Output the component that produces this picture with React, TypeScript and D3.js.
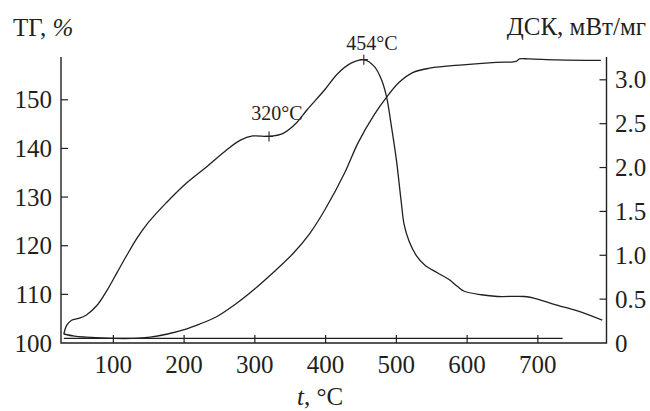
import React, { useEffect, useRef } from 'react';
import * as d3 from 'd3';

// TG curve, [t °C, %]
const tgPoints: [number, number][] = [
    [30, 101.85], [45, 101.4], [62, 101.2], [100, 100.95], [128, 100.95], [152, 101.2],
    [175, 101.8], [199, 102.7], [222, 103.9], [246, 105.4], [269, 107.6], [298, 110.9],
    [326, 114.5], [354, 118.4], [377, 122.4], [399, 127.4], [427, 135.0], [446, 141.2],
    [469, 147.0], [486, 150.5], [504, 153.6], [523, 155.6], [547, 156.5], [594, 157.2],
    [641, 157.7], [669, 157.9], [674, 158.4], [688, 158.4], [728, 158.2], [789, 158.1]
];

// DSC curve, [t °C, mW/mg]
const dscPoints: [number, number][] = [
    [30, 0.1], [34, 0.2], [41, 0.26], [51, 0.28], [62, 0.32], [77, 0.43], [91, 0.6],
    [105, 0.8], [119, 1.0], [133, 1.19], [147, 1.35], [161, 1.48], [175, 1.6], [203, 1.82],
    [232, 2.01], [260, 2.2], [279, 2.31], [297, 2.36], [320, 2.355], [340, 2.39], [359, 2.51],
    [373, 2.65], [399, 2.89], [417, 3.07], [436, 3.19], [454, 3.23], [469, 3.15], [479, 3.0],
    [486, 2.81], [493, 2.47], [500, 2.09], [507, 1.6], [511, 1.35], [518, 1.16], [528, 1.0],
    [540, 0.89], [558, 0.8], [575, 0.72], [587, 0.64], [596, 0.59], [620, 0.55], [643, 0.53],
    [681, 0.53], [695, 0.51], [728, 0.43], [756, 0.365], [791, 0.26]
];

// flat line just above the bottom axis
const baselinePoints: [number, number][] = [[30, 100.95], [735, 100.95]];

const xTicks = [100, 200, 300, 400, 500, 600, 700];
const tgTicks = [100, 110, 120, 130, 140, 150];
const dscTicks = [0, 0.5, 1, 1.5, 2, 2.5, 3];
const dscTickLabels = ['0', '0.5', '1.0', '1.5', '2.0', '2.5', '3.0'];
const peakTemps = [320, 454];
const peakLabels = ['320°C', '454°C'];

const ink = '#231f20';
const font = '"Liberation Serif", "Times New Roman", serif';

const App = () => {
    const ref = useRef<SVGSVGElement | null>(null);

    useEffect(() => {
        if (!ref.current) return;
        const svg = d3.select(ref.current);
        svg.selectAll('*').remove();

        const left = 61, right = 606.5, top = 57, bottom = 343;

        const x = d3.scaleLinear().domain([26, 797]).range([left, right]);
        const yTg = d3.scaleLinear().domain([100, 158.8]).range([bottom, top]);
        const yDsc = d3.scaleLinear().domain([0, 3.26]).range([bottom, top]);

        // frame: left axis, bottom, right axis
        svg.append('path')
            .attr('d', `M${left},${top}V${bottom}H${right}V${top}`)
            .attr('fill', 'none')
            .attr('stroke', ink)
            .attr('stroke-width', 1.4);

        // x ticks
        svg.selectAll('.xt')
            .data(xTicks)
            .enter()
            .append('line')
            .attr('x1', d => x(d)).attr('x2', d => x(d))
            .attr('y1', bottom).attr('y2', bottom - 8)
            .attr('stroke', ink).attr('stroke-width', 1.2);

        svg.selectAll('.xl')
            .data(xTicks)
            .enter()
            .append('text')
            .attr('x', d => x(d))
            .attr('y', bottom + 30)
            .attr('text-anchor', 'middle')
            .text(d => d);

        // left ticks
        svg.selectAll('.lt')
            .data(tgTicks.filter(d => d > 100))
            .enter()
            .append('line')
            .attr('x1', left).attr('x2', left + 7)
            .attr('y1', d => yTg(d)).attr('y2', d => yTg(d))
            .attr('stroke', ink).attr('stroke-width', 1.2);

        svg.selectAll('.ll')
            .data(tgTicks)
            .enter()
            .append('text')
            .attr('x', left - 9)
            .attr('y', d => yTg(d) + 8.5)
            .attr('text-anchor', 'end')
            .text(d => d);

        // right ticks
        svg.selectAll('.rt')
            .data(dscTicks.filter(d => d > 0))
            .enter()
            .append('line')
            .attr('x1', right).attr('x2', right - 7)
            .attr('y1', d => yDsc(d)).attr('y2', d => yDsc(d))
            .attr('stroke', ink).attr('stroke-width', 1.2);

        svg.selectAll('.rl')
            .data(dscTicks)
            .enter()
            .append('text')
            .attr('x', right + 8.5)
            .attr('y', d => yDsc(d) + 8.5)
            .text((d, i) => dscTickLabels[i]);

        const tgLine = d3.line<[number, number]>()
            .x(d => x(d[0]))
            .y(d => yTg(d[1]))
            .curve(d3.curveCatmullRom.alpha(0.5));

        const dscLine = d3.line<[number, number]>()
            .x(d => x(d[0]))
            .y(d => yDsc(d[1]))
            .curve(d3.curveCatmullRom.alpha(0.5));

        svg.append('path')
            .attr('d', tgLine(baselinePoints))
            .attr('fill', 'none').attr('stroke', ink).attr('stroke-width', 1.3);

        svg.append('path')
            .attr('d', tgLine(tgPoints))
            .attr('fill', 'none').attr('stroke', ink).attr('stroke-width', 1.3);

        svg.append('path')
            .attr('d', dscLine(dscPoints))
            .attr('fill', 'none').attr('stroke', ink).attr('stroke-width', 1.3);

        // peak marks
        const peakVal = (t: number) => dscPoints.find(p => p[0] === t)![1];
        peakTemps.forEach((t, i) => {
            const px = x(t), py = yDsc(peakVal(t));
            svg.append('path')
                .attr('d', `M${px},${py - 5}V${py + 5}M${px - 4},${py}H${px + 4}`)
                .attr('stroke', ink).attr('stroke-width', 1.1);
            svg.append('text')
                .attr('x', px + 8)
                .attr('y', py - (i === 0 ? 16 : 10))
                .attr('text-anchor', 'middle')
                .attr('font-size', 20)
                .text(peakLabels[i]);
        });

        // axis titles
        const tgTitle = svg.append('text').attr('x', 13).attr('y', 36);
        tgTitle.append('tspan').text('ТГ, ');
        tgTitle.append('tspan').attr('font-style', 'italic').text('%');

        svg.append('text')
            .attr('x', 646).attr('y', 35)
            .attr('text-anchor', 'end')
            .text('ДСК, мВт/мг');

        const xTitle = svg.append('text').attr('x', 297).attr('y', 405);
        xTitle.append('tspan').attr('font-style', 'italic').text('t');
        xTitle.append('tspan').text(', °C');
    }, []);

    return (
        <svg
            ref={ref}
            width={650}
            height={411}
            style={{ position: 'absolute', left: 0, top: 0, background: '#fff' }}
            fontFamily={font}
            fontSize={25}
            fill={ink}
        />
    );
};

export default App;
